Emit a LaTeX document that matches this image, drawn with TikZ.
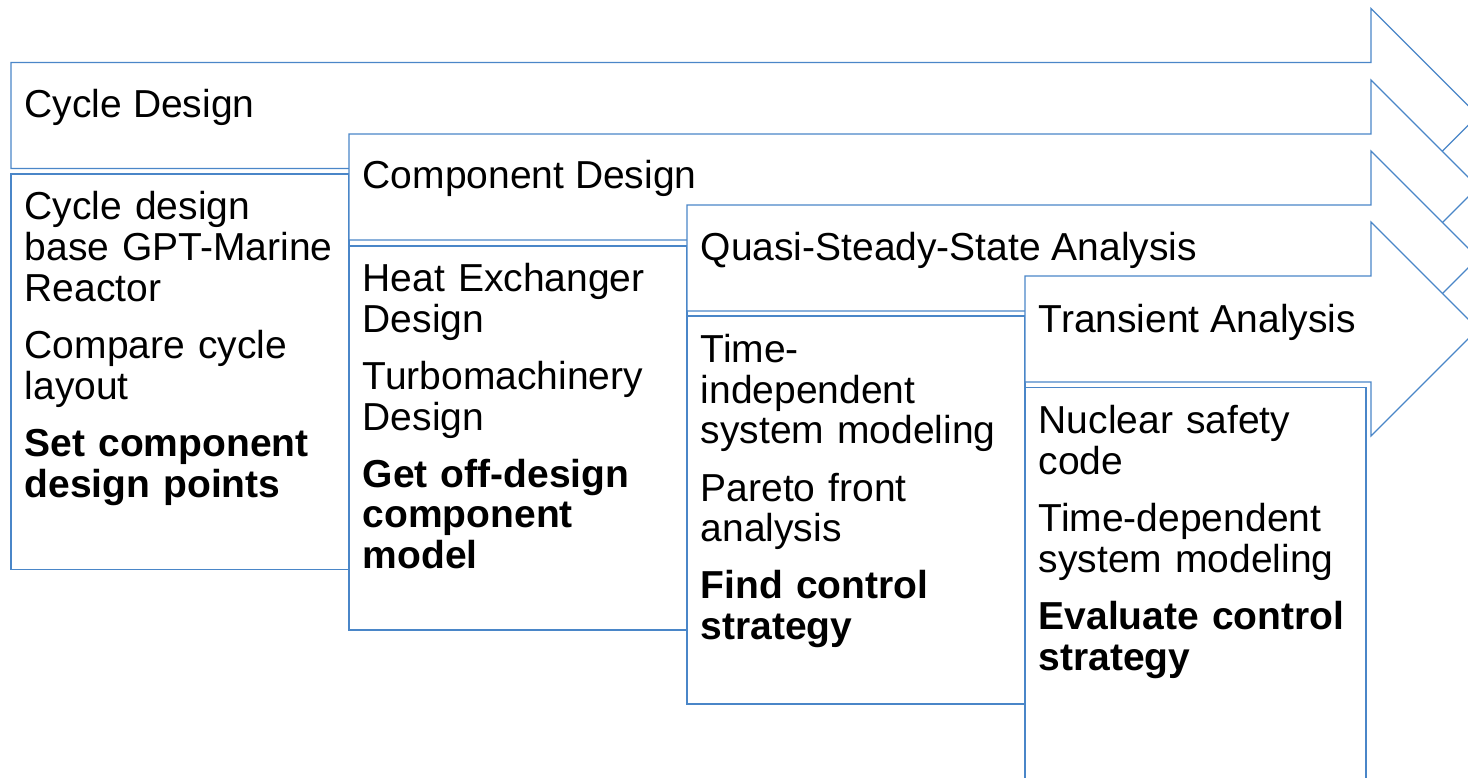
\documentclass[tikz,border=0pt]{standalone}
\usepackage{fontspec}
\setmainfont{Liberation Sans}
\definecolor{edge}{RGB}{74,134,200}
\begin{document}
\begin{tikzpicture}[x=1pt,y=-1pt,
  stage/.style={draw=edge, fill=white, line width=1.2pt, line join=miter},
  panel/.style={draw=edge, fill=white, line width=1.2pt},
  title/.style={anchor=base west, inner sep=0pt, font=\fontsize{39}{40.5}\selectfont},
  body/.style={anchor=base west, inner sep=0pt, text width=335pt, align=left,
               font=\fontsize{39}{40.7}\selectfont}]
\useasboundingbox (0,0) rectangle (1468,778);

% stage 1: cycle design
\path[stage] (11,62.5) -- (1371,62.5) -- (1371,8.5) -- (1478,115.5) -- (1371,222.5)
  -- (1371,168.5) -- (11,168.5) -- cycle;
\node[title] (t1) at (24.5,118) {Cycle Design};
\path[panel] (11,174) rectangle (349,569.5);
\node[body] (b1) at (24.5,220) {Cycle design\\ base GPT-Marine\\ Reactor\\[16.5pt]
  Compare cycle\\ layout\\[16.5pt]
  \textbf{Set component}\\ \textbf{design points}};

% stage 2: component design
\path[stage] (349,134) -- (1371,134) -- (1371,80) -- (1478,187) -- (1371,294)
  -- (1371,240) -- (349,240) -- cycle;
\node[title] (t2) at (362.5,189) {Component Design};
\path[panel] (349,246) rectangle (687,630);
\node[body] (b2) at (362.5,291.5) {Heat Exchanger\\ Design\\[16.5pt]
  Turbomachinery\\ Design\\[16.5pt]
  \textbf{Get off-design}\\ \textbf{component}\\ \textbf{model}};

% stage 3: quasi-steady-state analysis
\path[stage] (687,205) -- (1371,205) -- (1371,151) -- (1478,258) -- (1371,365)
  -- (1371,311) -- (687,311) -- cycle;
\node[title] (t3) at (700.5,260.5) {Quasi-Steady-State Analysis};
\path[panel] (687,316) rectangle (1025,704);
\node[body] (b3) at (700.5,362.5) {Time-\\ independent\\ system modeling\\[16.5pt]
  Pareto front\\ analysis\\[16.5pt]
  \textbf{Find control}\\ \textbf{strategy}};

% stage 4: transient analysis
\path[stage] (1025,276) -- (1371,276) -- (1371,222) -- (1478,329) -- (1371,436)
  -- (1371,382) -- (1025,382) -- cycle;
\node[title] (t4) at (1038.5,332) {Transient Analysis};
\path[panel] (1025,387.5) rectangle (1366,800);
\node[body] (b4) at (1038.5,433.5) {Nuclear safety\\ code\\[16.5pt]
  Time-dependent\\ system modeling\\[16.5pt]
  \textbf{Evaluate control}\\ \textbf{strategy}};
\end{tikzpicture}
\end{document}
